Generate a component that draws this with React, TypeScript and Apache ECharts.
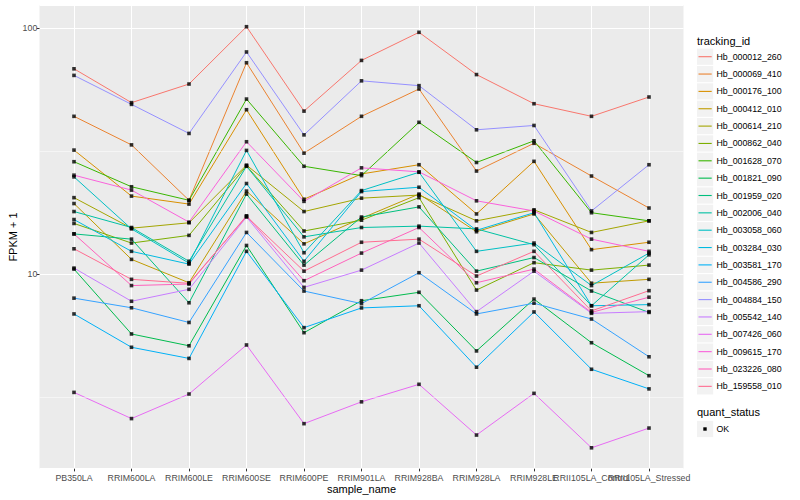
import React, { useEffect, useRef } from "react";
import * as echarts from "echarts";

const categories = [
  "PB350LA", "RRIM600LA", "RRIM600LE", "RRIM600SE", "RRIM600PE", "RRIM901LA",
  "RRIM928BA", "RRIM928LA", "RRIM928LE", "RRII105LA_Control", "RRII105LA_Stressed",
];

const trackingIds = [
  "Hb_000012_260", "Hb_000069_410", "Hb_000176_100", "Hb_000412_010", "Hb_000614_210",
  "Hb_000862_040", "Hb_001628_070", "Hb_001821_090", "Hb_001959_020", "Hb_002006_040",
  "Hb_003058_060", "Hb_003284_030", "Hb_003581_170", "Hb_004586_290", "Hb_004884_150",
  "Hb_005542_140", "Hb_007426_060", "Hb_009615_170", "Hb_023226_080", "Hb_159558_010",
];

const lineColors = [
  "#F8766D", "#EA8331", "#D89000", "#C09B00", "#A3A500", "#7CAE00", "#39B600", "#00BB4E",
  "#00BF7D", "#00C1A3", "#00BFC4", "#00BAE0", "#00B0F6", "#35A2FF", "#9590FF", "#C77CFF",
  "#E76BF3", "#FA62DB", "#FF62BC", "#FF6C91",
];

// FPKM + 1 per sample (order of categories)
const hb000012_260 = [68.5, 49.9, 59.4, 101.6, 46.1, 74.1, 96.4, 64.9, 49.4, 43.9, 52.6];
const hb000069_410 = [43.9, 33.6, 20.0, 72.5, 31.1, 43.9, 56.7, 26.3, 34.1, 25.1, 18.6];
const hb000176_100 = [32.0, 20.8, 19.3, 46.7, 20.2, 25.6, 27.9, 17.6, 28.8, 12.6, 13.5];
const hb000412_010 = [19.4, 11.5, 9.24, 21.8, 13.3, 16.9, 21.2, 14.9, 17.6, 9.2, 9.54];
const hb000614_210 = [20.5, 15.4, 16.2, 27.8, 18.0, 20.4, 21.0, 16.5, 18.3, 14.8, 16.5];
const hb000862_040 = [16.1, 13.4, 14.4, 27.6, 15.0, 16.6, 20.5, 8.63, 11.15, 10.4, 10.9];
const hb001628_070 = [28.7, 22.7, 20.0, 51.6, 27.5, 25.2, 41.5, 28.5, 34.9, 17.8, 16.5];
const hb001821_090 = [10.5, 5.72, 5.12, 13.1, 5.79, 7.81, 8.45, 4.88, 7.93, 5.27, 3.87];
const hb001959_020 = [14.6, 13.9, 7.66, 21.2, 10.9, 17.1, 18.8, 10.3, 11.7, 8.55, 7.0];
const hb002006_040 = [18.0, 15.5, 11.3, 27.5, 14.2, 15.5, 15.7, 15.3, 13.2, 7.45, 12.0];
const hb003058_060 = [24.9, 15.3, 11.1, 31.9, 12.24, 21.9, 26.0, 12.4, 13.4, 9.0, 12.2];
const hb003284_030 = [16.7, 12.4, 11.0, 23.4, 11.3, 21.7, 22.6, 15.1, 17.8, 7.45, 7.53];
const hb003581_170 = [6.9, 5.05, 4.55, 12.4, 6.07, 7.3, 7.45, 4.19, 7.03, 4.11, 3.42];
const hb004586_290 = [8.0, 7.31, 6.37, 14.8, 8.55, 7.6, 10.15, 6.9, 7.63, 6.58, 4.62];
const hb004884_150 = [64.4, 49.1, 37.4, 80.2, 36.9, 61.2, 58.5, 38.7, 40.3, 18.1, 27.9];
const hb005542_140 = [10.6, 7.77, 8.69, 17.1, 8.85, 10.4, 13.4, 7.05, 10.3, 6.94, 7.05];
const hb007426_060 = [3.31, 2.59, 3.26, 5.16, 2.47, 3.03, 3.57, 2.22, 3.28, 1.97, 2.37];
const hb009615_170 = [25.3, 22.0, 16.3, 34.6, 19.8, 27.1, 26.1, 19.9, 18.1, 13.9, 12.4];
const hb023226_080 = [14.6, 9.0, 9.13, 17.3, 9.42, 12.2, 15.5, 9.24, 10.5, 7.0, 8.07];
const hb159558_010 = [12.7, 9.54, 9.19, 17.2, 10.3, 13.5, 13.9, 9.84, 12.4, 7.1, 8.58];

const seriesValues = [
  hb000012_260, hb000069_410, hb000176_100, hb000412_010, hb000614_210,
  hb000862_040, hb001628_070, hb001821_090, hb001959_020, hb002006_040,
  hb003058_060, hb003284_030, hb003581_170, hb004586_290, hb004884_150,
  hb005542_140, hb007426_060, hb009615_170, hb023226_080, hb159558_010,
];

const yMajorLabels = [10, 100];
const yMinorBreaks = [3.1623, 31.623];
const quantStatus = ["OK"];

const FONT = "'Liberation Sans', Arial, Helvetica, sans-serif";
const Y_MIN = 1.62;
const Y_MAX = 124.5;

export default function App() {
  const ref = useRef<HTMLDivElement>(null);

  useEffect(() => {
    document.body.style.margin = "0";
    const chart = echarts.init(ref.current as HTMLDivElement, null, { renderer: "svg" });

    const lineSeries = trackingIds.map((name, k) => ({
      type: "line",
      name,
      xAxisIndex: 1,
      yAxisIndex: 1,
      data: seriesValues[k],
      symbol: "none",
      showSymbol: false,
      lineStyle: { color: lineColors[k], width: 1 },
      itemStyle: { color: lineColors[k] },
      z: 3,
      silent: true,
    }));

    const pointData: any[] = [];
    seriesValues.forEach((vals) => {
      vals.forEach((v, i) => pointData.push([categories[i], v]));
    });

    const legendGraphics: any[] = [];
    const legendTop = 56.7;
    const legendStep = 17.35;
    trackingIds.forEach((name, k) => {
      const cy = legendTop + k * legendStep;
      legendGraphics.push({
        type: "rect",
        shape: { x: 697, y: cy - 8.1, width: 16.2, height: 16.2 },
        style: { fill: "#F2F2F2" },
        silent: true,
      });
      legendGraphics.push({
        type: "line",
        shape: { x1: 698.5, y1: cy, x2: 711.7, y2: cy },
        style: { stroke: lineColors[k], lineWidth: 1.1 },
        silent: true,
      });
      legendGraphics.push({
        type: "text",
        x: 716.5,
        y: cy,
        style: {
          text: name, fontSize: 8.8, fontFamily: FONT, fill: "#000000",
          align: "left", verticalAlign: "middle", textAlign: "left", textVerticalAlign: "middle",
        },
        silent: true,
      });
    });

    const okY = 429;
    quantStatus.forEach((s, k) => {
      const cy = okY + k * legendStep;
      legendGraphics.push({
        type: "rect",
        shape: { x: 697, y: cy - 8.1, width: 16.2, height: 16.2 },
        style: { fill: "#F2F2F2" },
        silent: true,
      });
      legendGraphics.push({
        type: "rect",
        shape: { x: 703.3, y: cy - 1.7, width: 3.4, height: 3.4 },
        style: { fill: "#000000" },
        silent: true,
      });
      legendGraphics.push({
        type: "text",
        x: 716.5,
        y: cy,
        style: {
          text: s, fontSize: 8.8, fontFamily: FONT, fill: "#000000",
          align: "left", verticalAlign: "middle", textAlign: "left", textVerticalAlign: "middle",
        },
        silent: true,
      });
    });

    const titleText = (text: string, x: number, y: number, align: string, rotation = 0) => ({
      type: "text",
      x,
      y,
      rotation,
      style: {
        text, fontSize: 11, fontFamily: FONT, fill: "#000000",
        align, verticalAlign: "middle", textAlign: align, textVerticalAlign: "middle",
      },
      silent: true,
    });

    const option: any = {
      animation: false,
      backgroundColor: "#FFFFFF",
      grid: [
        { left: 39.5, right: 116.5, top: 5, bottom: 31.3, show: true, backgroundColor: "#EBEBEB", borderWidth: 0 },
        { left: 74, right: 151, top: 5, bottom: 31.3, show: false },
      ],
      xAxis: [
        { type: "value", gridIndex: 0, min: 0, max: 1, show: false },
        {
          type: "category",
          gridIndex: 1,
          data: categories,
          boundaryGap: false,
          axisLine: { show: false },
          axisTick: { show: true, interval: 0, length: 2.7, lineStyle: { color: "#333333", width: 1 } },
          axisLabel: { interval: 0, color: "#4D4D4D", fontSize: 8.8, fontFamily: FONT, margin: 5 },
          splitLine: { show: true, interval: 0, lineStyle: { color: "#FFFFFF", width: 1 } },
        },
      ],
      yAxis: [
        {
          type: "log",
          logBase: 10,
          gridIndex: 0,
          min: Y_MIN,
          max: Y_MAX,
          axisLine: { show: false },
          axisTick: { show: true, length: 2.7, lineStyle: { color: "#333333", width: 1 } },
          axisLabel: {
            color: "#4D4D4D",
            fontSize: 8.8,
            fontFamily: FONT,
            margin: 2.2,
            showMinLabel: false,
            showMaxLabel: false,
            formatter: (v: number) => {
              const hit = yMajorLabels.find((m) => Math.abs(v - m) < 1e-6 * m);
              return hit !== undefined ? String(hit) : "";
            },
          },
          splitLine: { show: true, lineStyle: { color: "#FFFFFF", width: 1 } },
        },
        { type: "log", logBase: 10, gridIndex: 1, min: Y_MIN, max: Y_MAX, show: false },
      ],
      series: [
        {
          type: "line",
          name: "minor-grid",
          xAxisIndex: 0,
          yAxisIndex: 0,
          data: [[0.5, 10]],
          symbol: "none",
          lineStyle: { opacity: 0 },
          silent: true,
          z: 1,
          markLine: {
            silent: true,
            symbol: ["none", "none"],
            label: { show: false },
            lineStyle: { color: "#FFFFFF", width: 0.5, type: "solid" },
            emphasis: { disabled: true },
            data: yMinorBreaks.map((b) => ({ yAxis: b })),
          },
        },
        ...lineSeries,
        {
          type: "scatter",
          name: "OK",
          xAxisIndex: 1,
          yAxisIndex: 1,
          data: pointData,
          symbol: "rect",
          symbolSize: 3.6,
          itemStyle: { color: "#000000" },
          z: 5,
          silent: true,
        },
      ],
      graphic: [
        ...legendGraphics,
        titleText("tracking_id", 697, 40.7, "left"),
        titleText("quant_status", 697, 412.3, "left"),
        titleText("sample_name", 361.5, 488.5, "center"),
        titleText("FPKM + 1", 12.5, 237, "center", Math.PI / 2),
      ],
    };

    chart.setOption(option);
    return () => chart.dispose();
  }, []);

  return <div ref={ref} style={{ width: 800, height: 500 }} />;
}
